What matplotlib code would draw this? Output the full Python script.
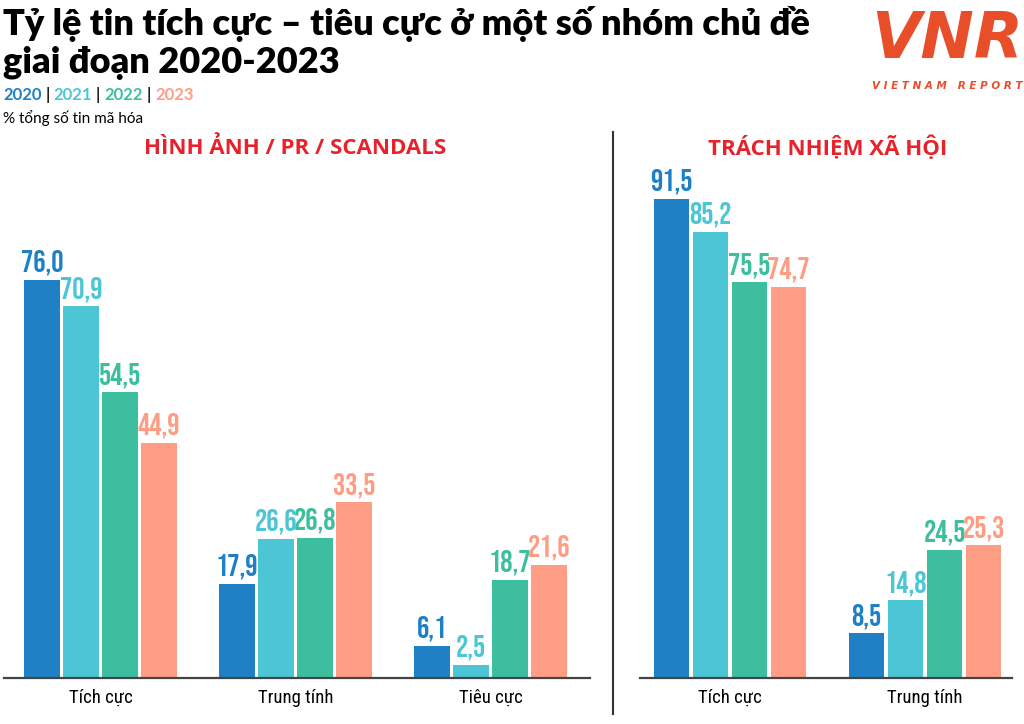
import matplotlib
matplotlib.use("Agg")
import matplotlib.pyplot as plt
import numpy as np

# data
years = ["2020", "2021", "2022", "2023"]
colors = ["#1f80c5", "#4cc5d4", "#3dbf9f", "#ff9c84"]

left_title = "HÌNH ẢNH / PR / SCANDALS"
left_cats = ["Tích cực", "Trung tính", "Tiêu cực"]
left_vals = [
    [76.0, 17.9, 6.1],   # 2020
    [70.9, 26.6, 2.5],   # 2021
    [54.5, 26.8, 18.7],  # 2022
    [44.9, 33.5, 21.6],  # 2023
]

right_title = "TRÁCH NHIỆM XÃ HỘI"
right_cats = ["Tích cực", "Trung tính"]
right_vals = [
    [91.5, 8.5],
    [85.2, 14.8],
    [75.5, 24.5],
    [74.7, 25.3],
]

W, H = 1024, 724
fig = plt.figure(figsize=(W / 100, H / 100), dpi=100)

num_font = dict(family=["Bebas Neue", "DejaVu Sans"], size=22)
cat_font = dict(family=["Roboto Condensed", "DejaVu Sans"], size=13.5)
head_font = ["Lato", "DejaVu Sans"]
red = "#e8212b"

base_y = 678
top_y = 130
ymax = (base_y - top_y) / 5.24


def panel(x0, x1, first_center, cats, vals, title):
    ax = fig.add_axes([x0 / W, (H - base_y) / H, (x1 - x0) / W, (base_y - top_y) / H])
    step = 0.2
    width = 0.18
    x = np.arange(len(cats))
    for i, yr in enumerate(years):
        pos = x + (i - 1.5) * step
        bars = ax.bar(pos, vals[i], width=width, color=colors[i], zorder=2)
        for b, v in zip(bars, vals[i]):
            ax.annotate(f"{v:.1f}".replace(".", ","), (b.get_x() + b.get_width() / 2, v),
                        xytext=(0, 6), textcoords="offset points",
                        ha="center", va="baseline", color=colors[i], **num_font)
    ax.set_xlim((x0 - first_center) / 195, (x1 - first_center) / 195)
    ax.set_ylim(0, ymax)
    for s in ["top", "left", "right"]:
        ax.spines[s].set_visible(False)
    ax.spines["bottom"].set_color("#444444")
    ax.spines["bottom"].set_linewidth(1.6)
    ax.set_yticks([])
    ax.set_xticks(x)
    ax.set_xticklabels(cats, **cat_font)
    ax.tick_params(axis="x", length=0, pad=8)
    cx = (first_center + (len(cats) - 1) / 2 * 195) / W
    fig.text(cx, 1 - 148 / H, title, ha="center", va="center", color=red,
             fontsize=16, fontweight="bold", family="Open Sans")
    return ax


ax1 = panel(4, 590, 100.5, left_cats, left_vals, left_title)
panel(640, 1012, 730, right_cats, right_vals, right_title)

# divider
fig.add_artist(plt.Line2D([613 / W, 613 / W], [1 - 132 / H, 1 - 714 / H], color="#333333", lw=1.5))

# title
fig.text(3 / W, 1 - 35 / H, "Tỷ lệ tin tích cực – tiêu cực ở một số nhóm chủ đề",
         ha="left", va="baseline", fontsize=26, fontweight="heavy", family=head_font)
fig.text(3 / W, 1 - 73 / H, "giai đoạn 2020-2023",
         ha="left", va="baseline", fontsize=26, fontweight="heavy", family=head_font)

# legend line
t = fig.text(3 / W, 1 - 100 / H, years[0], ha="left", va="baseline", color=colors[0],
             fontsize=12, fontweight="bold", family=head_font)
for i in range(1, 4):
    t = ax1.annotate(" | ", xy=(1, 0), xycoords=t, ha="left", va="bottom", annotation_clip=False,
                     color="#222222", fontsize=12, fontweight="bold", family=head_font)
    t = ax1.annotate(years[i], xy=(1, 0), xycoords=t, ha="left", va="bottom", annotation_clip=False,
                     color=colors[i], fontsize=12, fontweight="bold", family=head_font)

fig.text(3 / W, 1 - 118 / H, "% tổng số tin mã hóa", ha="left", va="center",
         fontsize=11, family=head_font)

# logo
orange = "#e94e2a"
fig.text(947 / W, 1 - 40 / H, "VNR", ha="center", va="center", color=orange,
         fontsize=46, fontweight="bold", style="italic", family="DejaVu Sans")
fig.text(947 / W, 1 - 86 / H, "V I E T N A M   R E P O R T", ha="center", va="center",
         color=orange, fontsize=7.5, fontweight="bold", style="italic", family="DejaVu Sans")

fig.savefig("out.png", dpi=100)
